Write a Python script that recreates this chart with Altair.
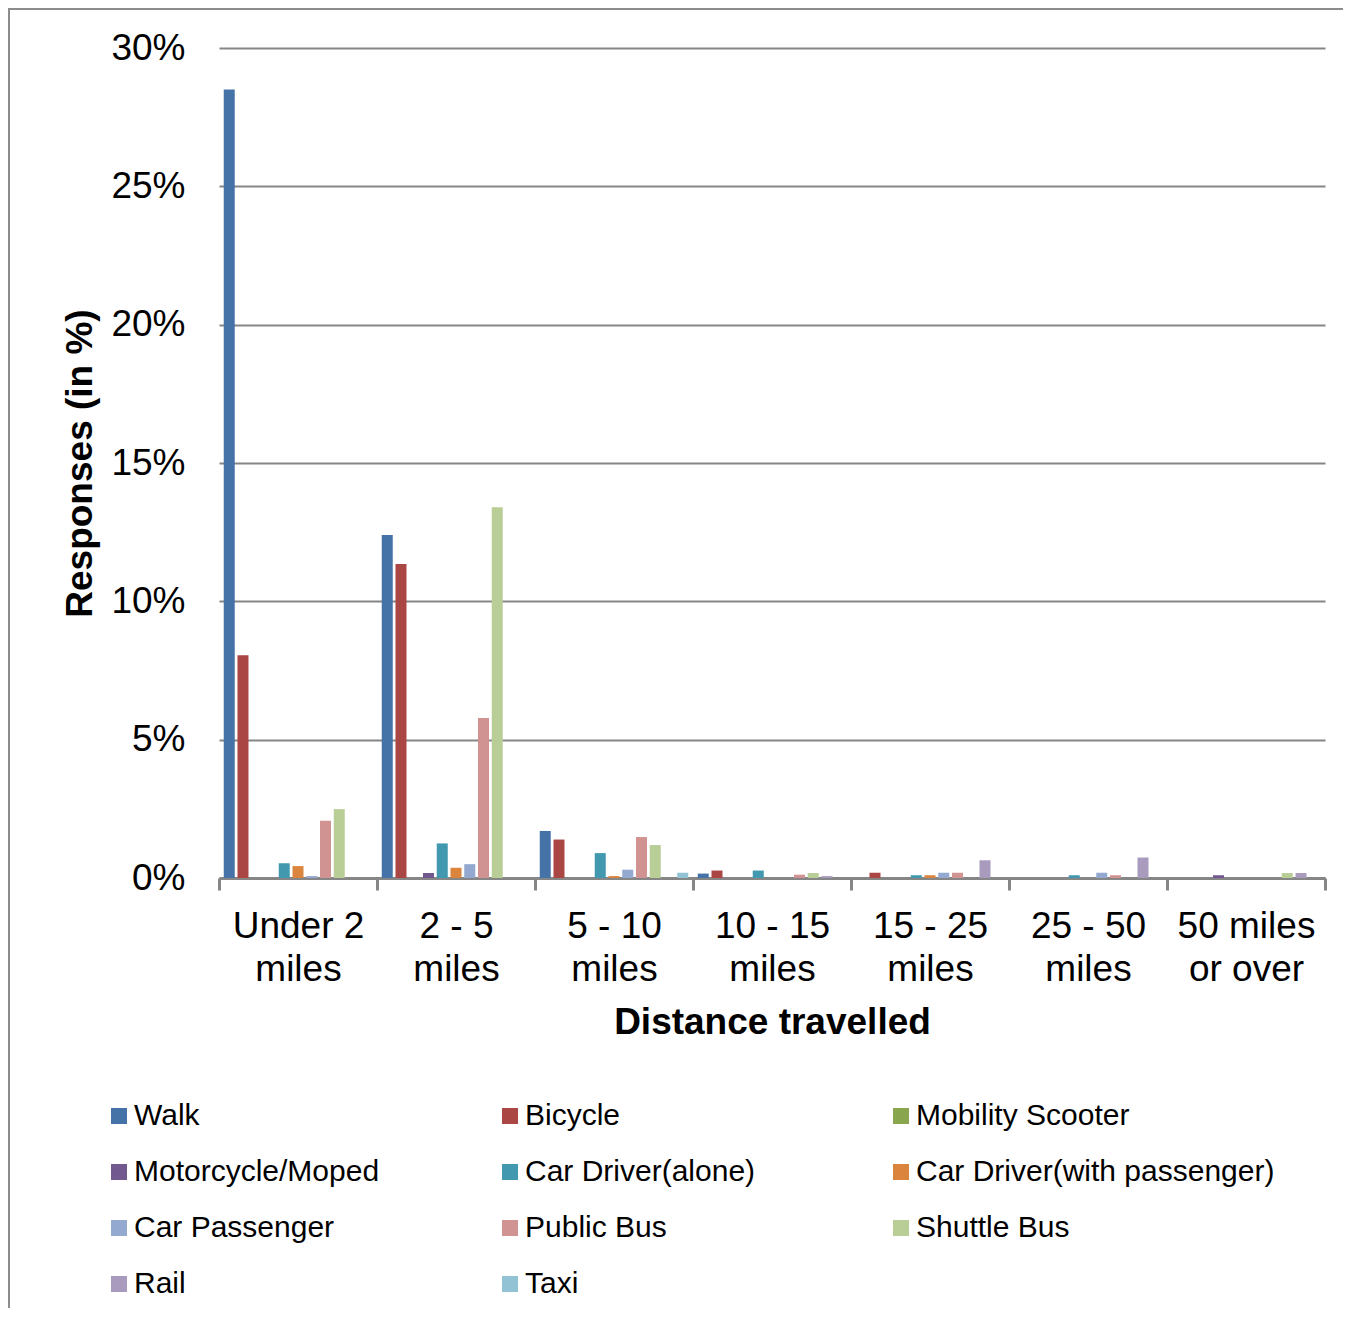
import altair as alt
import pandas as pd

distances = ["Under 2 miles", "2 - 5 miles", "5 - 10 miles", "10 - 15 miles",
             "15 - 25 miles", "25 - 50 miles", "50 miles or over"]
modes = ["Walk", "Bicycle", "Mobility Scooter", "Motorcycle/Moped", "Car Driver(alone)",
         "Car Driver(with passenger)", "Car Passenger", "Public Bus", "Shuttle Bus", "Rail", "Taxi"]
colors = ["#4673A7", "#AA4644", "#89A54E", "#71588F", "#4198AF", "#DB843D",
          "#93A9CF", "#D19392", "#B9CD96", "#A99BBD", "#92C3D5"]

walk = [28.5, 12.4, 1.7, 0.16, 0, 0, 0]
bicycle = [8.05, 11.35, 1.39, 0.27, 0.19, 0, 0]
mobility = [0, 0, 0, 0, 0, 0, 0]
motorcycle = [0, 0.18, 0, 0, 0, 0, 0.1]
car_alone = [0.53, 1.25, 0.9, 0.27, 0.1, 0.1, 0]
car_with = [0.43, 0.37, 0.07, 0, 0.1, 0, 0]
car_passenger = [0.07, 0.5, 0.3, 0, 0.19, 0.19, 0]
public_bus = [2.07, 5.78, 1.48, 0.12, 0.19, 0.1, 0]
shuttle_bus = [2.49, 13.4, 1.19, 0.18, 0, 0, 0.18]
rail = [0, 0, 0, 0.07, 0.64, 0.74, 0.18]
taxi = [0, 0, 0.19, 0, 0, 0, 0]

series = [walk, bicycle, mobility, motorcycle, car_alone, car_with,
          car_passenger, public_bus, shuttle_bus, rail, taxi]

rows = []
for m, vals in zip(modes, series):
    for d, v in zip(distances, vals):
        rows.append({"distance": d, "mode": m, "value": v})
df = pd.DataFrame(rows)

FONT = "Liberation Sans"
GRAY = "#868686"

label_expr = (
    "indexof(datum.label + '', 'miles') < 0 ? '' : "
    "(datum.label == '50 miles or over' ? ['50 miles', 'or over'] : "
    "[replace(datum.label, ' miles', ''), 'miles'])"
)

bars = alt.Chart(df).mark_bar().encode(
    x=alt.X("distance:N", sort=distances,
            scale=alt.Scale(paddingInner=0, paddingOuter=0),
            axis=alt.Axis(title="Distance travelled", labelAngle=0, labelFontSize=37,
                          labelFont=FONT, labelColor="black", labelLineHeight=43,
                          labelExpr=label_expr,
                          labelOverlap=False, labelLimit=400, labelFlush=False,
                          labelAlign="center",
                          tickBand="extent", tickSize=12, tickWidth=3, tickColor=GRAY,
                          domainColor=GRAY, domainWidth=3, labelPadding=18,
                          titleFontSize=37, titleFont=FONT, titleFontWeight="bold",
                          titleColor="black", titleY=155, titleBaseline="alphabetic",
                          grid=False)),
    xOffset=alt.XOffset("mode:N", sort=modes,
                        scale=alt.Scale(paddingInner=0.2, paddingOuter=0.345)),
    y=alt.Y("value:Q", scale=alt.Scale(domain=[0, 30], nice=False),
            axis=alt.Axis(values=[0, 5, 10, 15, 20, 25, 30], labelExpr="datum.value + '%'",
                          grid=True, gridColor=GRAY, gridWidth=2, domain=False, ticks=False,
                          labelFontSize=37, labelFont=FONT, labelColor="black", labelPadding=34,
                          title="Responses (in %)", titleFontSize=37, titleFont=FONT,
                          titleFontWeight="bold", titleColor="black", titleX=-128,
                          titleBaseline="alphabetic")),
    color=alt.Color("mode:N", sort=modes,
                    scale=alt.Scale(domain=modes, range=colors),
                    legend=alt.Legend(orient="none", legendX=-115, legendY=1053, columns=3,
                                      direction="horizontal",
                                      gridAlign="all", columnPadding=2, rowPadding=26,
                                      symbolType="square", symbolSize=256, symbolStrokeWidth=0,
                                      symbolOpacity=1, labelFontSize=30, labelFont=FONT,
                                      labelColor="black", labelOffset=0, labelLimit=500,
                                      title=None, padding=0)),
)

frame = alt.Chart(alt.Data(values=[{"a": 1}])).mark_rect(
    fill="white", fillOpacity=0, stroke="#8C8C8C", strokeWidth=2
).encode(x=alt.value(-210), x2=alt.value(2000), y=alt.value(-39), y2=alt.value(2000))

chart = alt.layer(frame, bars).properties(
    width=1106, height=830,
    autosize=alt.AutoSizeParams(type="none"),
    padding={"left": 211, "top": 40, "right": 18, "bottom": 430},
    background="white",
).configure_view(stroke=None)

chart.save("out.html", embed_options={"renderer": "svg", "actions": False})
